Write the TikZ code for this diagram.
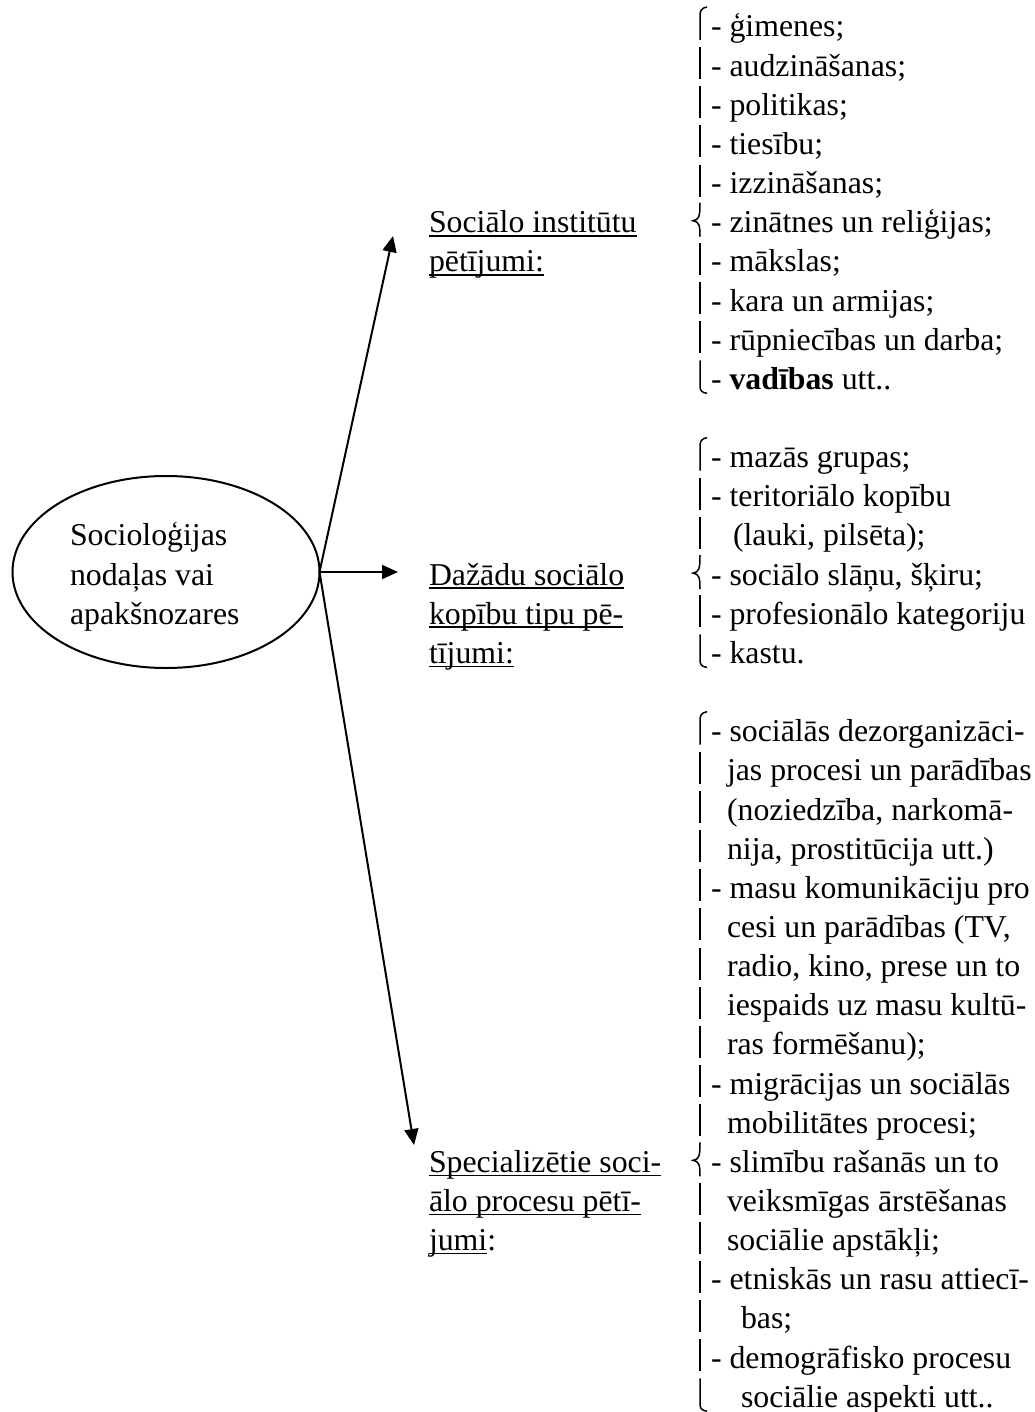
\documentclass[tikz,border=0pt]{standalone}
\usepackage{fontspec}
\setmainfont{Liberation Serif}
\usetikzlibrary{arrows.meta,shapes.geometric}

% underline set at a fixed depth below the baseline, through the descenders
\newcommand\wordul[1]{\setbox0=\hbox{#1}\rlap{\rule[-3.8pt]{\wd0}{1.6pt}}\box0}

% first baseline and line pitch of the text grid
\def\bzero{37}
\def\lstep{39.15}

% one column of brace pieces: first line, middle (cusp) line, last line
\newcommand\bracerun[3]{%
  \foreach \k in {#1,...,#3}{
    \pgfmathsetmacro\b{\bzero+\lstep*\k}
    \ifnum\k=#1
      \draw[bracepen] (707,\b-30) .. controls (701,\b-29) and (700,\b-26) .. (700,\b-21) -- (700,\b+3);
    \else\ifnum\k=#3
      \draw[bracepen] (700,\b-29) -- (700,\b-4) .. controls (700,\b+1) and (701,\b+3) .. (707,\b+4);
    \else\ifnum\k=#2
      \draw[bracepen] (700,\b-30) .. controls (700,\b-16) and (699,\b-13) .. (693,\b-12)
                                  .. controls (699,\b-11) and (700,\b-8) .. (700,\b+4);
    \else
      \draw[bracepen] (700,\b-29) -- (700,\b+3);
    \fi\fi\fi
  }}

\begin{document}
\begin{tikzpicture}[x=1pt,y=-1pt,
  every node/.style={inner sep=0pt, outer sep=0pt, font=\fontsize{31.8pt}{39.15pt}\selectfont},
  textline/.style={anchor=base west},
  link/.style={line width=2pt, -{Triangle[length=16pt,width=14pt]}},
  bracepen/.style={line width=1.5pt, line cap=butt}]

\useasboundingbox (0,0) rectangle (1034,1412);

% central ellipse
\node[draw, ellipse, line width=2pt, minimum width=307pt, minimum height=192pt] (root) at (166,572) {};
\node[textline] (r1) at (70,{\bzero+\lstep*13}) {Socioloģijas};
\node[textline] (r2) at (70,{\bzero+\lstep*14}) {nodaļas vai};
\node[textline] (r3) at (70,{\bzero+\lstep*15}) {apakšnozares};

% branch headings
\node[textline] (h1a) at (429,{\bzero+\lstep*5})  {\wordul{Sociālo institūtu}};
\node[textline] (h1b) at (429,{\bzero+\lstep*6})  {\wordul{pētījumi:}};
\node[textline] (h2a) at (429,{\bzero+\lstep*14}) {\wordul{Dažādu sociālo}};
\node[textline] (h2b) at (429,{\bzero+\lstep*15}) {\wordul{kopību tipu pē-}};
\node[textline] (h2c) at (429,{\bzero+\lstep*16}) {\wordul{tījumi:}};
\node[textline] (h3a) at (429,{\bzero+\lstep*29}) {\wordul{Specializētie soci-}};
\node[textline] (h3b) at (429,{\bzero+\lstep*30}) {\wordul{ālo procesu pētī-}};
\node[textline] (h3c) at (429,{\bzero+\lstep*31}) {\wordul{jumi}:};

% arrow tips
\coordinate (tip1) at (393,236);
\coordinate (tip2) at (398,572);
\coordinate (tip3) at (414,1145);
\draw[link] (root.east) -- (tip1);
\draw[link] (root.east) -- (tip2);
\draw[link] (root.east) -- (tip3);

% item lists
\foreach \k/\x/\t in {
  0/711/{- ģimenes;},
  1/711/{- audzināšanas;},
  2/711/{- politikas;},
  3/711/{- tiesību;},
  4/711/{- izzināšanas;},
  5/711/{- zinātnes un reliģijas;},
  6/711/{- mākslas;},
  7/711/{- kara un armijas;},
  8/711/{- rūpniecības un darba;},
  9/711/{- \textbf{vadības} utt..},
  11/711/{- mazās grupas;},
  12/711/{- teritoriālo kopību},
  13/733/{(lauki, pilsēta);},
  14/711/{- sociālo slāņu, šķiru;},
  15/711/{- profesionālo kategoriju},
  16/711/{- kastu.},
  18/711/{- sociālās dezorganizāci-},
  19/727/{jas procesi un parādības},
  20/727/{(noziedzība, narkomā-},
  21/727/{nija, prostitūcija utt.)},
  22/711/{- masu komunikāciju pro},
  23/727/{cesi un parādības (TV,},
  24/727/{radio, kino, prese un to},
  25/727/{iespaids uz masu kultū-},
  26/727/{ras formēšanu);},
  27/711/{- migrācijas un sociālās},
  28/727/{mobilitātes procesi;},
  29/711/{- slimību rašanās un to},
  30/727/{veiksmīgas ārstēšanas},
  31/727/{sociālie apstākļi;},
  32/711/{- etniskās un rasu attiecī-},
  33/741/{bas;},
  34/711/{- demogrāfisko procesu},
  35/741/{sociālie aspekti utt..}}
  \node[textline] (item\k) at (\x,{\bzero+\lstep*\k}) {\t};

% braces in front of the lists
\bracerun{0}{5}{9}
\bracerun{11}{14}{16}
\bracerun{18}{29}{35}
\end{tikzpicture}
\end{document}
